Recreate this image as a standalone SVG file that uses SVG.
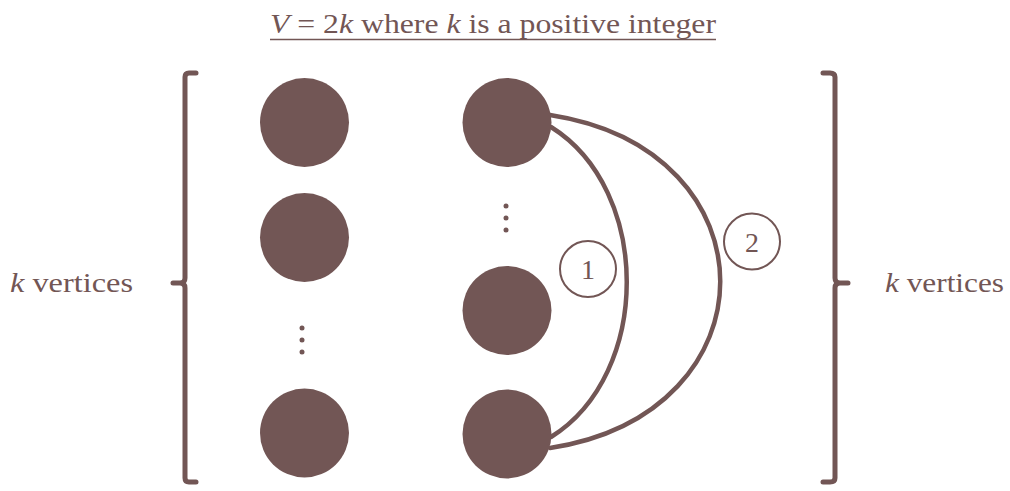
<svg xmlns="http://www.w3.org/2000/svg" width="1010" height="491" viewBox="0 0 1010 491">
<style>
.v{fill:#725655}
.t{fill:#725655}
.e{fill:none;stroke:#725655;stroke-width:4.5;stroke-linecap:round}
.br{fill:none;stroke:#725655;stroke-width:5;stroke-linecap:round;stroke-linejoin:round}
.lb{fill:#fff;stroke:#725655;stroke-width:2}
.d{fill:#725655}
</style>
<rect width="1010" height="491" fill="#fff"/>
<g id="title" font-family="Liberation Serif, Tinos, Times New Roman, serif" font-size="28">
<text class="t" x="270" y="33" textLength="446" lengthAdjust="spacingAndGlyphs"><tspan font-style="italic">V</tspan> = 2<tspan font-style="italic">k</tspan> where <tspan font-style="italic">k</tspan> is a positive integer</text>
<line x1="270" y1="39.5" x2="716" y2="39.5" stroke="#725655" stroke-width="1.5"/>
</g>
<g id="left-bracket" font-family="Liberation Serif, Tinos, Times New Roman, serif" font-size="28">
<path class="br" d="M196,73 H189 Q185,73 185,77 V278 Q185,283 180,283 H173 M180,283 Q185,283 185,288 V478 Q185,482 189,482 H196"/>
<text class="t" x="10" y="292" textLength="123" lengthAdjust="spacingAndGlyphs"><tspan font-style="italic">k</tspan> vertices</text>
</g>
<g id="right-bracket" font-family="Liberation Serif, Tinos, Times New Roman, serif" font-size="28">
<path class="br" d="M823,73 H830 Q835,73 835,77 V278 Q835,283 840,283 H848 M840,283 Q835,283 835,288 V478 Q835,482 830,482 H823"/>
<text class="t" x="885" y="292" textLength="119" lengthAdjust="spacingAndGlyphs"><tspan font-style="italic">k</tspan> vertices</text>
</g>
<g id="connectors">
<path id="edge1" class="e" d="M551,127 C652,190 652,374 551,437"/>
<path id="edge2" class="e" d="M550,115 C777,150 777,413 550,448"/>
</g>
<g id="L1"><circle class="v" cx="304.5" cy="122.5" r="44.5"/></g>
<g id="L2"><circle class="v" cx="304.5" cy="237.5" r="44.5"/></g>
<g id="Ldots"><circle class="d" cx="302" cy="328" r="2.5"/><circle class="d" cx="302" cy="340" r="2.5"/><circle class="d" cx="302" cy="352" r="2.5"/></g>
<g id="L3"><circle class="v" cx="304.5" cy="433" r="44.5"/></g>
<g id="R1"><circle class="v" cx="507" cy="122.5" r="44.5"/></g>
<g id="Rdots"><circle class="d" cx="506" cy="206" r="2.5"/><circle class="d" cx="506" cy="218" r="2.5"/><circle class="d" cx="506" cy="230" r="2.5"/></g>
<g id="R2"><circle class="v" cx="507" cy="310.5" r="44.5"/></g>
<g id="R3"><circle class="v" cx="507" cy="434" r="44.5"/></g>
<g id="label1" font-family="Liberation Serif, Tinos, Times New Roman, serif" font-size="28"><circle class="lb" cx="588" cy="269" r="28"/><text class="t" x="588" y="279" text-anchor="middle">1</text></g>
<g id="label2" font-family="Liberation Serif, Tinos, Times New Roman, serif" font-size="28"><circle class="lb" cx="752" cy="241.5" r="28"/><text class="t" x="752" y="251.5" text-anchor="middle">2</text></g>
</svg>
